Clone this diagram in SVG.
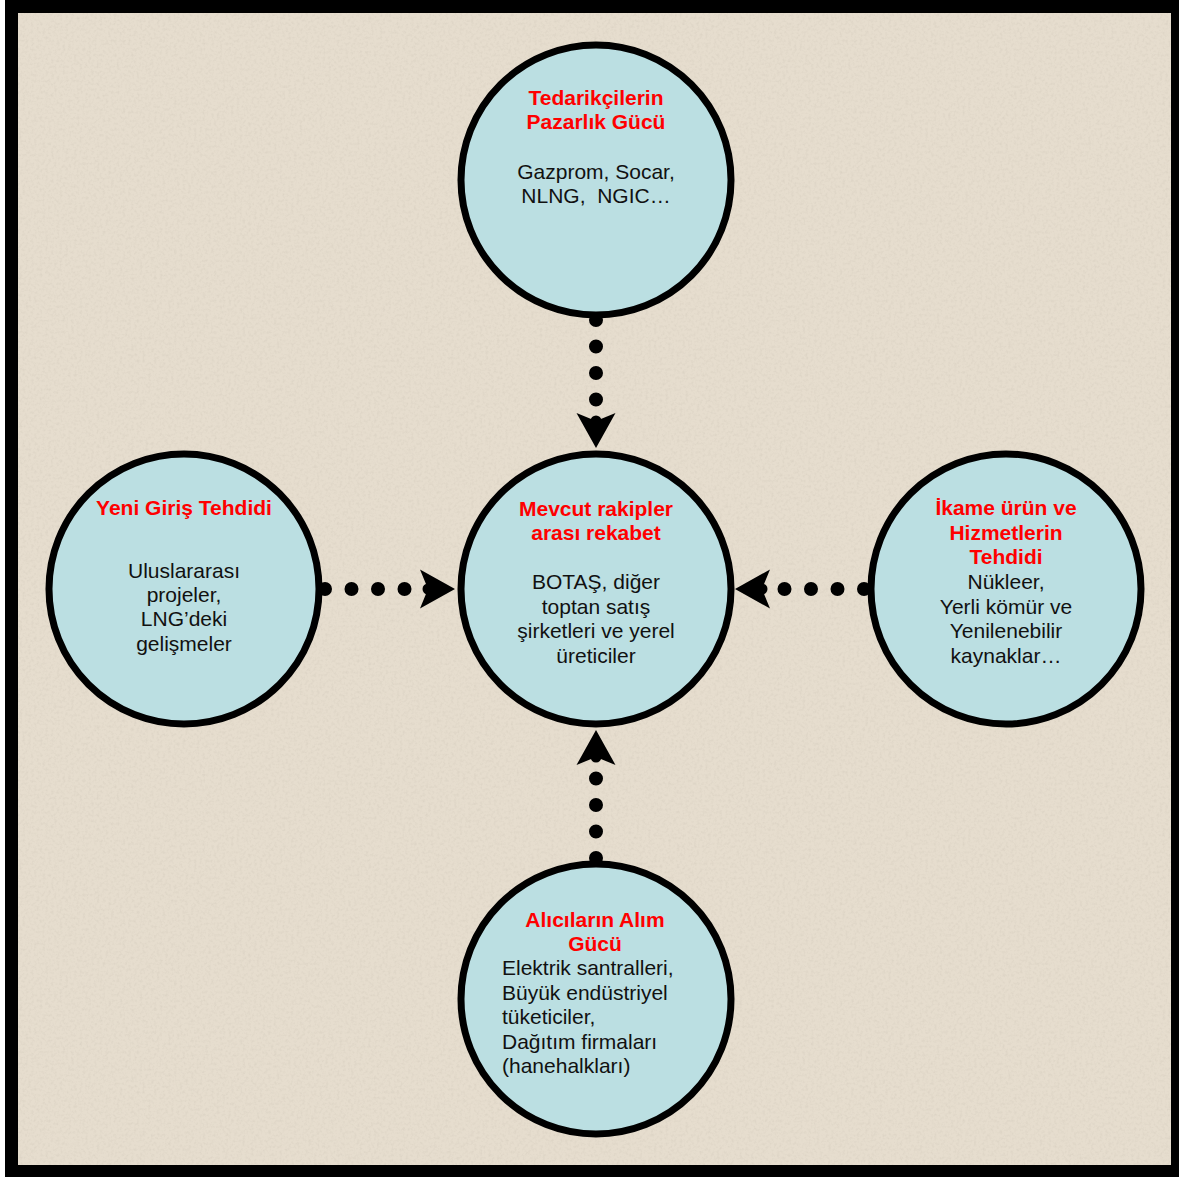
<svg xmlns="http://www.w3.org/2000/svg" width="1179" height="1177" viewBox="0 0 1179 1177">
<defs>
<filter id="paper" x="0" y="0" width="100%" height="100%">
<feTurbulence type="fractalNoise" baseFrequency="0.35" numOctaves="3" seed="4" result="n"/>
<feColorMatrix in="n" type="matrix" values="0 0 0 0 0.55  0 0 0 0 0.5  0 0 0 0 0.42  0 0 0 -1.6 0.9" result="speck"/>
<feComposite in="speck" in2="SourceGraphic" operator="in"/>
</filter>
<g id="arrow"><path d="M0,0 L-35,-19.5 L-27,0 L-35,19.5 Z"/><circle cx="-27" cy="0" r="5.5"/></g>
<style>
.node circle{fill:#bbdfe2;stroke:#000;stroke-width:7}
.t{font-family:"Liberation Sans",Arial,sans-serif;font-size:21px;font-weight:bold;fill:#ff0000;text-anchor:middle}
.b{font-family:"Liberation Sans",Arial,sans-serif;font-size:21px;fill:#111;text-anchor:middle}
.dots{stroke:#000;stroke-width:14;stroke-linecap:round;stroke-dasharray:0 26.5;fill:none}
</style>
</defs>
<rect x="5" y="0" width="1174" height="1177" fill="#000"/>
<rect x="18" y="13" width="1153" height="1152" fill="#e6ddce"/>
<rect x="18" y="13" width="1153" height="1152" fill="#e6ddce" filter="url(#paper)" opacity="0.35"/>

<g id="connectors">
<line class="dots" x1="596" y1="320" x2="596" y2="405"/>
<use href="#arrow" transform="translate(596,448) rotate(90)"/>
<line class="dots" x1="325" y1="589" x2="410" y2="589"/>
<use href="#arrow" transform="translate(455,589)"/>
<line class="dots" x1="864" y1="589" x2="780" y2="589"/>
<use href="#arrow" transform="translate(735,589) rotate(180)"/>
<line class="dots" x1="596" y1="858" x2="596" y2="775"/>
<use href="#arrow" transform="translate(596,730) rotate(-90)"/>
</g>

<g id="node-suppliers" class="node">
<circle cx="596" cy="180" r="135"/>
<text class="t" x="596" y="105">Tedarikçilerin</text>
<text class="t" x="596" y="129">Pazarlık Gücü</text>
<text class="b" x="596" y="179">Gazprom, Socar,</text>
<text class="b" x="596" y="203" xml:space="preserve">NLNG,  NGIC…</text>
</g>

<g id="node-rivalry" class="node">
<circle cx="596" cy="589" r="135"/>
<text class="t" x="596" y="516">Mevcut rakipler</text>
<text class="t" x="596" y="540">arası rekabet</text>
<text class="b" x="596" y="589">BOTAŞ, diğer</text>
<text class="b" x="596" y="614">toptan satış</text>
<text class="b" x="596" y="638">şirketleri ve yerel</text>
<text class="b" x="596" y="663">üreticiler</text>
</g>

<g id="node-new-entrants" class="node">
<circle cx="184" cy="589" r="135"/>
<text class="t" x="184" y="515">Yeni Giriş Tehdidi</text>
<text class="b" x="184" y="578">Uluslararası</text>
<text class="b" x="184" y="602">projeler,</text>
<text class="b" x="184" y="626">LNG’deki</text>
<text class="b" x="184" y="651">gelişmeler</text>
</g>

<g id="node-substitutes" class="node">
<circle cx="1006" cy="589" r="135"/>
<text class="t" x="1006" y="515">İkame ürün ve</text>
<text class="t" x="1006" y="540">Hizmetlerin</text>
<text class="t" x="1006" y="564">Tehdidi</text>
<text class="b" x="1006" y="589">Nükleer,</text>
<text class="b" x="1006" y="614">Yerli kömür ve</text>
<text class="b" x="1006" y="638">Yenilenebilir</text>
<text class="b" x="1006" y="663">kaynaklar…</text>
</g>

<g id="node-buyers" class="node">
<circle cx="596" cy="999" r="135"/>
<text class="t" x="595" y="927">Alıcıların Alım</text>
<text class="t" x="595" y="951">Gücü</text>
<text class="b" x="502" y="975" text-anchor="start" style="text-anchor:start">Elektrik santralleri,</text>
<text class="b" x="502" y="1000" style="text-anchor:start">Büyük endüstriyel</text>
<text class="b" x="502" y="1024" style="text-anchor:start">tüketiciler,</text>
<text class="b" x="502" y="1049" style="text-anchor:start">Dağıtım firmaları</text>
<text class="b" x="502" y="1073" style="text-anchor:start">(hanehalkları)</text>
</g>
</svg>
